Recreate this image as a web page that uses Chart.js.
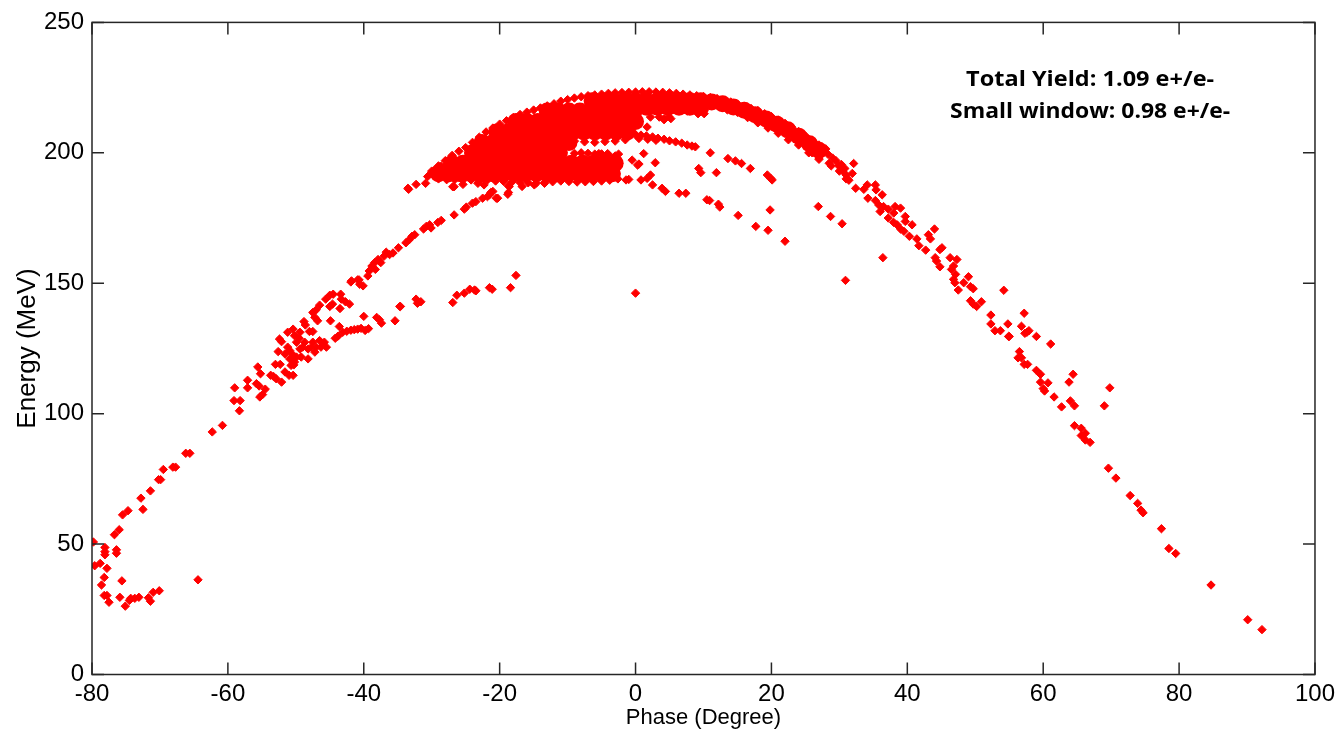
<!DOCTYPE html>
<html lang="en">
<head>
<meta charset="UTF-8">
<title>Energy vs Phase</title>
<script src="https://cdn.jsdelivr.net/npm/chart.js@4"></script>
<style>
  html, body { margin: 0; padding: 0; background: #fff; }
</style>
</head>
<body>
<canvas id="phaseChart" width="1340" height="736"></canvas>
<script>
// ---- data: [phase (deg), energy (MeV)] ----
const xTicks = [-80, -60, -40, -20, 0, 20, 40, 60, 80, 100];
const yTicks = [0, 50, 100, 150, 200, 250];
const noteLines = ['Total Yield: 1.09 e+/e-', 'Small window: 0.98 e+/e-'];

const tailPoints = [
  [-79.8,50.8],[-79.6,41.7],[-78.8,42.6],[-78.1,48.7],[-78.1,47.1],[-78.1,45.9],[-77.8,40.7],
  [-78.2,37.2],[-78.6,34.3],[-78.2,30.3],[-77.8,30.3],[-77.5,27.7],[-76.7,53.6],[-76.0,55.5],
  [-76.4,47.8],[-76.4,46.5],[-75.6,35.9],[-75.9,29.6],[-75.1,26.2],[-74.5,28.4],[-74.3,29.2],
  [-73.7,29.2],[-73.1,29.6],[-71.7,29.4],[-71.4,28.1],[-71.0,31.5],[-70.1,32.1],[-75.5,61.2],
  [-74.7,62.8],[-72.5,63.3],[-72.8,67.6],[-71.4,70.4],[-70.2,74.7],[-69.9,74.7],[-69.5,78.6],
  [-68.1,79.5],[-67.7,79.5],[-66.2,84.8],[-65.6,84.8],[-64.4,36.3],[-62.3,93.0],[-60.8,95.5]
];

const risingPoints = [
  [-59.1,105.0],[-58.2,105.0],[-58.3,101.1],[-59.0,109.9],[-57.1,109.9],[-57.1,112.8],[-55.8,111.5],
  [-55.4,110.6],[-55.3,106.4],[-54.9,107.3],[-54.5,109.4],[-52.1,112.1],[-55.6,117.9],[-55.2,115.3],
  [-53.7,114.7],[-53.3,114.3],[-52.9,113.4],[-53.0,118.9],[-52.3,118.9],[-51.6,116.0],[-51.0,114.7],
  [-50.4,114.7],[-52.6,123.8],[-52.4,128.6],[-52.1,127.6],[-51.6,122.9],[-51.2,125.5],[-50.9,124.2],
  [-50.7,121.3],[-50.4,122.5],[-50.2,119.8],[-51.2,131.2],[-50.4,132.4],[-50.2,129.9],[-49.9,127.4],
  [-49.4,124.8],[-49.2,121.7],[-49.0,125.5],[-49.4,131.2],[-49.5,128.9],[-48.8,135.3],[-48.6,134.0],
  [-48.0,131.5],[-47.5,131.5],[-47.5,138.8],[-47.2,136.9],[-47.0,139.8],[-46.8,135.6],[-46.5,141.6],
  [-45.6,143.9],[-45.0,145.4],[-44.5,145.8],[-45.0,141.1],[-44.6,142.0],[-44.9,135.6],[-43.4,145.8],
  [-43.3,143.9],[-43.5,140.3],[-43.6,133.4],[-42.7,142.9],[-42.1,142.0],[-44.2,128.9],[-43.8,129.7],
  [-48.7,127.4],[-48.2,124.8],[-48.2,121.0],[-47.7,125.5],[-47.5,127.4],[-47.2,123.6],[-47.0,125.5],
  [-46.5,128.0],[-46.3,125.5],[-45.8,127.4],[-45.5,125.5],[-50.9,121.0],[-49.9,121.7],[-50.7,118.5],
  [-50.3,118.7],[-43.1,131.2],[-42.5,131.6],[-41.9,132.0],[-41.4,132.2],[-40.9,132.4],[-40.4,132.7],
  [-39.8,131.9],[-39.3,132.6],[-40.0,137.3],[-38.1,136.9],[-37.7,136.0],[-37.4,134.7],[-35.4,135.6],
  [-34.7,141.1],[-34.6,141.1],[-32.3,143.9],[-32.1,142.3],[-31.6,142.9]
];

const upperBranch = [
  [-41.9,150.5],[-41.8,150.9],[-40.9,151.3],[-40.6,149.6],[-40.1,149.0],[-40.7,151.3],[-39.4,152.8],
  [-39.2,154.7],[-38.8,156.6],[-38.4,157.9],[-38.3,155.3],[-37.9,159.1],[-37.7,158.5],[-37.5,157.9],
  [-37.0,160.4],[-36.7,161.9],[-36.2,161.0],[-35.7,161.6],[-34.9,163.6],[-33.8,165.5],[-33.3,166.7],
  [-32.9,168.0],[-32.5,168.6],[-31.2,170.8],[-30.8,171.8],[-30.3,172.4],[-30.1,171.2],[-29.1,173.3],
  [-28.6,174.1],[-26.7,176.2],[-25.2,178.4],[-24.9,179.2],[-24.0,180.7],[-23.5,181.3],[-22.5,182.6],
  [-21.8,183.2],[-21.3,184.8],[-20.5,182.6],[-18.7,184.8],[-18.7,187.3],[-20.3,182.6],[-21.5,183.9],
  [-21.0,185.2]
];

const lowerBranch = [
  [-26.9,142.6],[-26.3,145.4],[-25.2,146.2],[-24.4,147.7],[-23.7,147.4],[-23.5,147.1],[-21.5,148.3],
  [-21.1,147.7],[-18.4,148.3],[-17.6,153.0],[0.0,146.2]
];

// dense core of the bunch (drawn with larger marks)
const cloudCore = [
  [-29,192],[-27.4,192],[-25.8,192],[-24.2,192],[-22.6,192],[-21,192],[-19.4,192],[-17.8,192],[-16.2,192],
  [-14.6,192],[-13,192],[-11.4,192],[-9.8,192],[-8.2,192],[-6.6,192],[-5,192],[-3.4,192],
  [-27,196],[-25.4,196],[-23.8,196],[-22.2,196],[-20.6,196],[-19,196],[-17.4,196],[-15.8,196],[-14.2,196],
  [-12.6,196],[-11,196],[-9.4,196],[-7.8,196],[-6.2,196],[-4.6,196],[-3,196],
  [-24,200],[-22.4,200],[-20.8,200],[-19.2,200],[-17.6,200],[-16,200],[-14.4,200],[-12.8,200],[-11.2,200],
  [-22.6,204],[-21,204],[-19.4,204],[-17.8,204],[-16.2,204],[-14.6,204],[-13,204],[-11.4,204],[-9.8,204],
  [-20.4,208],[-18.8,208],[-17.2,208],[-15.6,208],[-14,208],[-12.4,208],[-10.8,208],[-9.2,208],[-7.6,208],
  [-6,208],[-4.4,208],[-2.8,208],[-1.2,208],
  [-17.6,212],[-16,212],[-14.4,212],[-12.8,212],[-11.2,212],[-9.6,212],[-8,212],[-6.4,212],[-4.8,212],
  [-3.2,212],[-1.6,212],[0,212],
  [-13,216],[-11.4,216],[-9.8,216],[-8.2,216],[-6.6,216],[-5,216],[-3.4,216],[-1.8,216],[-0.2,216],
  [1.6,217.5],[3.2,217.5],[4.8,217.5],[6.4,217.5],[8,217.5],[9.6,217.5],
  [-6.4,220],[-4.8,220],[-3.2,220],[-1.6,220],[0,220],[1.6,220],[3.2,220],[4.8,220],[6.4,220],[8,220],[9.6,220],
  [11.2,219.5],[12.8,218.8],[14.4,217.6],[16,216.3],[17.6,214.6],[19.2,213],[20.8,211],[22.4,208.8],
  [24,206.4],[25.6,203.5],[27,201]
];

const cloudTop = [
  [-30,193],[-29,195],[-28,197],[-27,199],[-26,200.6],[-25,202],[-24,204],[-23,206],[-22,208],[-21,209.5],
  [-20,211],[-19,212.3],[-18,213.5],[-17,214.7],[-16,215.6],[-15,216.4],[-14,217.2],[-13,218],[-12,218.8],
  [-11,219.8],[-10,220.4],[-9,221],[-8,221.5],[-7,221.9],[-6,222.2],[-5,222.5],[-4,222.8],[-3,223],
  [-2,223.1],[-1,223.2],[0,223.3],[1,223.4],[2,223.4],[3,223.3],[4,223.2],[5,223],[6,222.8],[7,222.5],
  [8,222.2],[9,221.9],[10,221.6],[11,221.2],[12,220.8],[13,220.2],[14,219.5],[15,218.7],[16,217.9],
  [17,217],[18,216.2],[19,215],[20,213.9],[21,212.6],[22,211.3],[23,209.8],[24,208.2],[25,206.5],
  [26,204.8],[27,203],[28,201.5]
];

const cloudBottom = [
  [-29,190],[-27.8,189.7],[-26.6,189.8],[-25.4,189.5],[-24.2,189.9],[-23,189.3],[-21.8,189.6],[-20.6,189.2],
  [-19.4,189],[-18.2,188.8],[-17,188.6],[-15.8,188.5],[-14.6,188.4],[-13.4,188.6],[-12.2,188.9],[-11,189.2],
  [-9.8,189],[-8.6,188.8],[-7.4,188.9],[-6.2,189],[-5,189.2],[-3.8,189.5],[-2.6,190],
  [-9,199.8],[-8,200],[-7,199.8],[-6,199.5],[-5,199.6],[-4,199.2],[-3,198.8],
  [-9,204.5],[-7.5,204.2],[-6,204],[-4.5,204.3],[-3,204.5],[-1.5,205],
  [-33.5,186.4],[-33.4,186.0],[-32.3,187.9],[-30.9,188.3],[-26.9,187],[-26.7,187],[-25.4,187.9],
  [-24.2,189.6],[-23.2,188.3],[-22.3,187.7],[-18.8,184.1],[-18.6,187.1],[-16.7,187.1],[-14.9,187.7],
  [-13.4,188.3],[-11.7,190.5],[-30.6,190.9],[-30.1,192.1],[-29.6,193.4],[-29.1,194],[-28.6,194.9],[-27.9,195.3]
];

const middleBand = [
  [0,207],[0.8,206.8],[1.6,206.5],[2.5,206.1],[3.3,205.6],[4.2,205.2],[5,204.6],[5.9,204.2],[6.8,203.7],
  [7.6,203],[8.3,202.6],[8.8,202.3],[0.5,205.5],[1.8,205.2],[3,204.8],
  [1.7,209.9],[3.5,213.7],[4.2,213.1],[5.2,213.1],[5.4,216.9],[7.6,216.9],[9.1,215.6],[10.1,215],
  [2.2,213.7],[-0.2,210.5],[4.2,212.7],[4.9,213.8],[7.6,216],[5.9,217.5],[9.2,215]
];

const arcPoints = [
  [13.5,216.5],[15,215.5],[16.5,213.5],[18,211.5],[19.5,209.5],[21,207.5],[22.5,205],[24,203],
  [25.5,200],[27,198],[28.5,196],[26.5,203.5],[27.5,201],[28.3,199.5],[29,198],[29.5,197],[30.3,195.5],
  [30.8,194],[26,200],[27,197.5],[28.8,195],[30,193],[31,190],
  [29.9,195],[30.5,193],[31,191.5],[31.4,189.5],[32.1,195.9],[31.9,192.1],[32.4,186.4],[33.6,186],
  [34.1,187.7],[35.3,187.7],[35.4,185.8],[34.2,182.6],[35.3,181.7],[36.3,183.9],[35.8,180.0],[36.5,179.4],
  [36.0,177.5],[37.2,178.4],[38.2,179.4],[39.0,178.8],[38.0,176.9],[39.7,175.6],[37.2,175],[38.0,173.3],
  [38.5,172.4],[39.0,170.8],[39.5,169.9],[39.7,173.7],[40.7,172.4],[40.3,168],[41.4,167],[41.7,164.4],
  [42.7,162.7],[43.1,168.6],[44.0,170.8],[43.4,167],[45.1,163.6],[44.8,162.9],[44.1,159.8],[44.3,158.5],
  [44.8,156.3],[46.3,159.8],[47.3,159.1],[46.8,156.6],[46.5,155.3],[47.1,153.4],[46.8,151.5],[47.0,150.2],
  [47.5,147.4],[48.3,150.2],[49.0,152.5],[49.3,148.7],[49.7,147.9],[49.3,143.3],[49.7,142.0],[50.2,141.1],
  [50.9,142.9],[54.2,147.3]
];

const fallingPoints = [
  [52.3,137.8],[52.3,134.4],[52.9,131.8],[53.7,131.8],[54.8,134.4],[55.0,129.6],[57.2,138.5],[56.8,133.5],
  [57.6,131.2],[57.9,131.8],[59.0,129.6],[61.1,126.7],[54.9,129.6],[57.3,130.8],[56.5,123.8],[56.3,121.4],
  [56.8,121.4],[57.2,118.9],[57.7,118.9],[59.0,116.6],[59.6,115.1],[59.6,112.1],[60.0,109.6],[60.2,108.7],
  [60.7,111.8],[61.6,106.4],[62.7,102.6],[63.8,112.1],[64.4,115.1],[64.0,104.9],[64.6,103],[69.0,103],
  [69.8,109.9],[64.6,95.4],[65.6,94.4],[65.6,91.6],[66.2,92.5],[66.2,89.9],[66.9,89.0],[69.6,79.1],
  [70.7,75.3],[72.8,68.6],[73.9,65.6],[74.4,63.0],[74.7,62.0],[77.4,55.9],[78.5,48.3],[79.5,46.4],
  [84.7,34.3],[90.1,21.0],[92.2,17.2]
];

const strayPoints = [
  [11.0,200.0],[13.6,197.8],[14.7,196.9],[15.6,195.9],[16.9,194.0],[19.4,191.5],[19.9,190.2],[20.1,189.6],
  [26.9,179.4],[28.7,175.6],[30.4,172.8],[19.8,178.1],[17.7,171.8],[19.5,170.3],[22.0,166.1],[15.1,176.0],
  [10.5,182],[10.9,181.7],[12.2,180.3],[12.4,179.2],[6.4,184.5],[7.4,184.5],[3.9,186.4],[4.4,185.2],
  [9.3,194.0],[9.6,192.4],[11.9,192.4],[2.9,196.2],[1.2,199.7],[0.5,195.7],[-0.5,197.2],[0.8,189.6],
  [2.2,191.5],[2.5,187.7],[-1.4,189.6],[-1.0,189.8],[1.7,190.2],[36.4,159.8],[30.9,151.1],[-2.5,199.5],
  [-2.7,197.8],[-4.1,199.7],[-5.4,199.7],[-3.2,194.9],[0.3,195.3]
];

const RED = '#ff0000';
const toXY = list => list.map(([x, y]) => ({ x, y }));

function dots(list) {
  return {
    data: toXY(list),
    pointStyle: 'rectRot',
    pointRadius: 4.2,
    borderWidth: 1,
    backgroundColor: RED,
    borderColor: RED,
    showLine: false
  };
}

// box, inward ticks and the yield note
const framePlugin = {
  id: 'frame',
  afterDatasetsDraw(chart) {
    const { ctx, chartArea: a, scales: { x, y } } = chart;
    ctx.save();
    ctx.strokeStyle = '#262626';
    ctx.lineWidth = 1.5;
    ctx.strokeRect(a.left, a.top, a.right - a.left, a.bottom - a.top);
    ctx.beginPath();
    xTicks.forEach(v => {
      const px = x.getPixelForValue(v);
      ctx.moveTo(px, a.bottom); ctx.lineTo(px, a.bottom - 12);
      ctx.moveTo(px, a.top); ctx.lineTo(px, a.top + 12);
    });
    yTicks.forEach(v => {
      const py = y.getPixelForValue(v);
      ctx.moveTo(a.left, py); ctx.lineTo(a.left + 12, py);
      ctx.moveTo(a.right, py); ctx.lineTo(a.right - 12, py);
    });
    ctx.stroke();

    // note text, stretched to the width it has in the reference
    ctx.fillStyle = '#000';
    ctx.font = 'bold 21px "Open Sans"';
    ctx.textAlign = 'center';
    ctx.textBaseline = 'alphabetic';
    const cx = x.getPixelForValue(66.9);
    const widths = [248, 280];
    noteLines.forEach((t, i) => {
      const k = widths[i] / ctx.measureText(t).width;
      ctx.save();
      ctx.translate(cx, y.getPixelForValue(225.5) + i * 32);
      ctx.scale(k, 1);
      ctx.fillText(t, 0, 0);
      ctx.restore();
    });
    ctx.restore();
  }
};

const tickFont = { family: 'Liberation Sans', size: 24 };

new Chart(document.getElementById('phaseChart'), {
  type: 'scatter',
  data: {
    datasets: [
      { ...dots(cloudCore), pointStyle: 'circle', pointRadius: 8.5, borderWidth: 0 },
      dots(cloudTop),
      dots(cloudBottom),
      dots(middleBand),
      dots(tailPoints),
      dots(risingPoints),
      dots(upperBranch),
      dots(lowerBranch),
      dots(arcPoints),
      dots(fallingPoints),
      dots(strayPoints)
    ]
  },
  options: {
    responsive: false,
    animation: false,
    devicePixelRatio: 1,
    layout: { padding: { top: 19.5, right: 23, left: 0, bottom: 0 } },
    plugins: {
      legend: { display: false },
      tooltip: { enabled: false }
    },
    scales: {
      x: {
        type: 'linear',
        min: -80,
        max: 100,
        afterBuildTicks: s => { s.ticks = xTicks.map(v => ({ value: v })); },
        afterFit: s => { s.height = 61.5; },
        grid: { display: false, drawTicks: false },
        border: { display: false },
        ticks: { font: tickFont, color: '#000', padding: 5, maxRotation: 0 },
        title: {
          display: true, text: 'Phase (Degree)', color: '#000',
          font: { family: 'Liberation Sans', size: 22 }, padding: { top: 0, bottom: 5 }
        }
      },
      y: {
        type: 'linear',
        min: 0,
        max: 250,
        afterBuildTicks: s => { s.ticks = yTicks.map(v => ({ value: v })); },
        afterFit: s => { s.width = 92; },
        grid: { display: false, drawTicks: false },
        border: { display: false },
        ticks: { font: tickFont, color: '#000', padding: 8 },
        title: {
          display: true, text: 'Energy (MeV)', color: '#000',
          font: { family: 'Liberation Sans', size: 26 }, padding: { top: 12, bottom: 0 }
        }
      }
    }
  },
  plugins: [framePlugin]
});
</script>
</body>
</html>
